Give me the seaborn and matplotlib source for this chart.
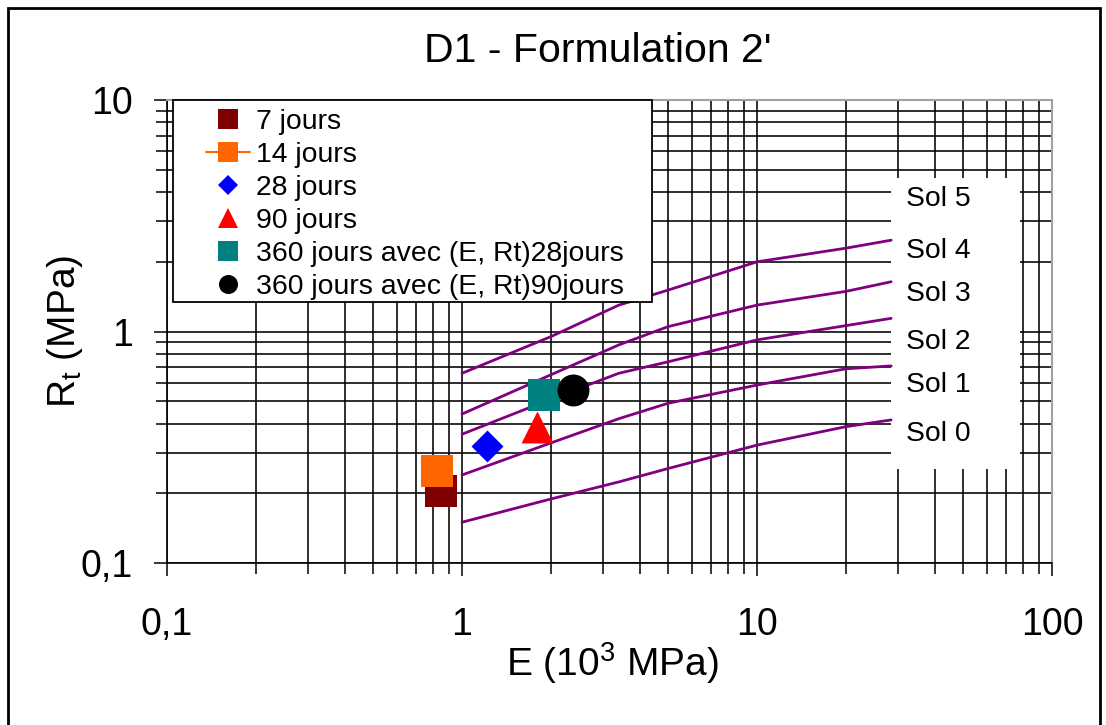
import numpy as np
import pandas as pd
import matplotlib
matplotlib.use("Agg")
import matplotlib.pyplot as plt
from matplotlib.patches import Rectangle
from matplotlib.lines import Line2D
from matplotlib.ticker import LogLocator, FixedLocator, FixedFormatter, NullFormatter
import seaborn as sns

# ---------------- data ----------------
series_names = ["7 jours", "14 jours", "28 jours", "90 jours",
                "360 jours avec (E, Rt)28jours", "360 jours avec (E, Rt)90jours"]
E_points = [0.85, 0.82, 1.22, 1.79, 1.89, 2.37]
Rt_points = [0.205, 0.25, 0.32, 0.387, 0.53, 0.56]
point_colors = ["#800000", "#FF6600", "#0000FF", "#FF0000", "#008080", "#000000"]
point_markers = ["s", "s", "D", "^", "s", "o"]

curve_E = [1, 2, 3.4, 5, 10, 20, 28.5]
curve_sol45 = [0.66, 0.95, 1.30, 1.51, 2.00, 2.29, 2.48]
curve_sol34 = [0.44, 0.65, 0.875, 1.05, 1.30, 1.49, 1.64]
curve_sol23 = [0.36, 0.51, 0.66, 0.74, 0.92, 1.06, 1.14]
curve_sol12 = [0.24, 0.33, 0.42, 0.49, 0.587, 0.69, 0.71]
curve_sol01 = [0.15, 0.189, 0.224, 0.256, 0.323, 0.388, 0.415]

sol_labels = ["Sol 5", "Sol 4", "Sol 3", "Sol 2", "Sol 1", "Sol 0"]
sol_label_Rt = [3.75, 2.22, 1.45, 0.90, 0.585, 0.362]
sol_label_E = 32

x_ticks = [0.1, 1, 10, 100]
x_ticklabels = ["0,1", "1", "10", "100"]
y_ticks = [0.1, 1, 10]
y_ticklabels = ["0,1", "1", "10"]

title = "D1 - Formulation 2'"
xlabel = r"E (10$\mathregular{^3}$ MPa)"
ylabel = r"R$\mathregular{_t}$ (MPa)"

# ---------------- style ----------------
sns.set_theme(style="white")
plt.rcParams["font.family"] = ["Liberation Sans", "DejaVu Sans"]
plt.rcParams["mathtext.fontset"] = "custom"
plt.rcParams["mathtext.rm"] = "Liberation Sans"
plt.rcParams["text.color"] = "black"

W, H = 1106, 725
fig = plt.figure(figsize=(W / 100, H / 100), dpi=100)
fig.patch.set_facecolor("white")
ax_l, ax_r, ax_t, ax_b = 167, 1052, 100, 563
ax = fig.add_axes([ax_l / W, 1 - ax_b / H, (ax_r - ax_l) / W, (ax_b - ax_t) / H])
ax.set_facecolor("white")

# curves
curves = {"s45": curve_sol45, "s34": curve_sol34, "s23": curve_sol23,
          "s12": curve_sol12, "s01": curve_sol01}
df_curves = pd.concat([pd.DataFrame({"E": curve_E, "Rt": v, "curve": k})
                       for k, v in curves.items()], ignore_index=True)
sns.lineplot(data=df_curves, x="E", y="Rt", hue="curve",
             palette=["#800080"] * len(curves), estimator=None, sort=True,
             linewidth=2.0, legend=False, ax=ax, zorder=3)

# points
df_pts = pd.DataFrame({"E": E_points, "Rt": Rt_points, "serie": series_names})
for i, row in df_pts.iterrows():
    m = point_markers[i]
    size = 16.3 ** 2 if m == "D" else 23 ** 2
    sns.scatterplot(x=[row["E"]], y=[row["Rt"]], marker=m, color=point_colors[i],
                    s=size, linewidth=0, ax=ax, zorder=5 + i * 0.01, legend=False)

ax.set_xscale("log")
ax.set_yscale("log")
ax.set_xlim(0.1, 100)
ax.set_ylim(0.1, 10)

ax.xaxis.set_major_locator(FixedLocator(x_ticks))
ax.xaxis.set_major_formatter(FixedFormatter(x_ticklabels))
ax.yaxis.set_major_locator(FixedLocator(y_ticks))
ax.yaxis.set_major_formatter(FixedFormatter(y_ticklabels))
ax.xaxis.set_minor_locator(LogLocator(base=10, subs=np.arange(2, 10), numticks=50))
ax.yaxis.set_minor_locator(LogLocator(base=10, subs=np.arange(2, 10), numticks=50))
ax.xaxis.set_minor_formatter(NullFormatter())
ax.yaxis.set_minor_formatter(NullFormatter())

ax.grid(True, which="both", color="black", linewidth=1.15)
ax.set_axisbelow(True)

ax.tick_params(axis="both", which="major", direction="out", length=9.5, width=1.1,
               color="black", labelsize=27, labelcolor="black")
ax.tick_params(axis="both", which="minor", direction="out", length=7.8, width=1.1,
               color="black")
ax.tick_params(axis="x", which="major", pad=22)
ax.tick_params(axis="y", which="major", pad=15)
ax.tick_params(left=True, bottom=True, top=False, right=False, which="both")

for s in ["left", "bottom"]:
    ax.spines[s].set_color("black")
    ax.spines[s].set_linewidth(1.2)
for s in ["top", "right"]:
    ax.spines[s].set_color("#a0a0a0")
    ax.spines[s].set_linewidth(1.5)

# white label box for the soil classes
ax.add_patch(Rectangle((28.5, 0.255), 78 - 28.5, 4.6 - 0.255, facecolor="white",
                       edgecolor="none", zorder=2))
for lab, yv in zip(sol_labels, sol_label_Rt):
    ax.text(sol_label_E, yv, lab, fontsize=20.4, ha="left", va="center", zorder=6)

# legend with manual frame
x0 = (173 - ax_l) / (ax_r - ax_l)
x1 = (652 - ax_l) / (ax_r - ax_l)
y0 = (ax_b - 302) / (ax_b - ax_t)
ax.add_patch(Rectangle((x0, y0), x1 - x0, 1.0 - y0, transform=ax.transAxes,
                       facecolor="white", edgecolor="black", linewidth=1.3,
                       zorder=4, clip_on=False))
handles = []
for name, c, m in zip(series_names, point_colors, point_markers):
    ms = 9.7 if m == "D" else 13.7
    ls = "-" if name == "14 jours" else "none"
    handles.append(Line2D([], [], color=c, marker=m, markersize=ms, linestyle=ls,
                          linewidth=1.5, markeredgewidth=0))
leg = ax.legend(handles=handles, labels=series_names, loc="upper left",
                bbox_to_anchor=((206 - ax_l) / (ax_r - ax_l), (ax_b - 109) / (ax_b - ax_t)),
                frameon=False, fontsize=20.4, handlelength=1.54, handletextpad=0.21,
                borderpad=0, borderaxespad=0, labelspacing=0.245)
leg.set_zorder(7)

# labels and title
ax.set_xlabel(xlabel, fontsize=28, color="black")
ax.xaxis.set_label_coords((612 - ax_l) / (ax_r - ax_l), (ax_b - 640) / (ax_b - ax_t))
ax.set_ylabel(ylabel, fontsize=28, color="black")
ax.yaxis.set_label_coords((85 - ax_l) / (ax_r - ax_l), 0.5)
fig.text(598 / W, 1 - 62 / H, title, fontsize=29.5, ha="center", va="baseline")

# outer frame
fig.add_artist(Rectangle((8 / W, -0.05), (1100 - 8) / W, 1.05 - 8 / H,
                         transform=fig.transFigure, fill=False, edgecolor="black",
                         linewidth=2.0))

fig.savefig("out.png", dpi=100, facecolor="white")
